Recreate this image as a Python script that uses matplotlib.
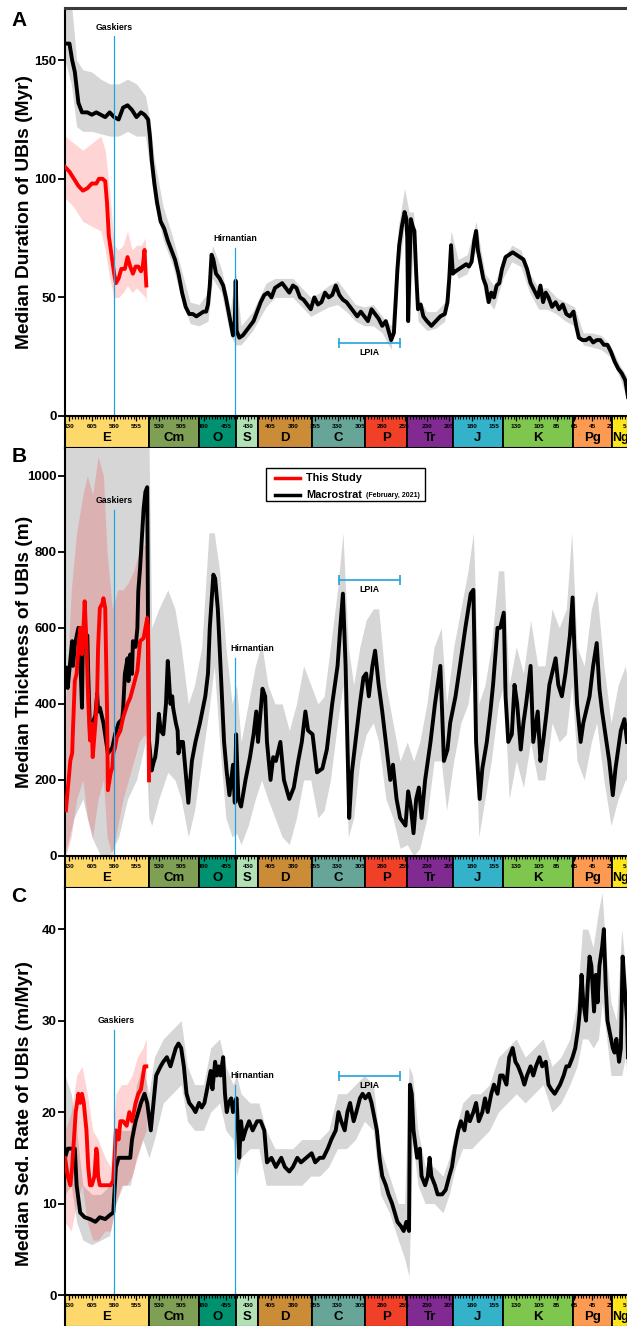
import matplotlib
matplotlib.use("Agg")
import matplotlib.pyplot as plt
import numpy as np
from matplotlib.patches import Rectangle

plt.rcParams['font.family'] = ['Liberation Sans', 'DejaVu Sans']
plt.rcParams['font.weight'] = 'bold'

# ---------------- geologic time scale ----------------
period_names = ['E', 'Cm', 'O', 'S', 'D', 'C', 'P', 'Tr', 'J', 'K', 'Pg', 'Ng']
period_old = [635, 541, 485.4, 443.8, 419.2, 358.9, 298.9, 251.9, 201.3, 145, 66, 23]
period_young = [541, 485.4, 443.8, 419.2, 358.9, 298.9, 251.9, 201.3, 145, 66, 23, 2.58]
period_colors = ['#fdd86b', '#7f9f55', '#009270', '#b3e1b6', '#cb8c37', '#67a599',
                 '#f04028', '#812b92', '#34b2c9', '#7fc64e', '#fd9a52', '#ffe619']
scale_labels = [630, 605, 580, 555, 530, 505, 480, 455, 430, 405, 380, 355, 330, 305,
                280, 255, 230, 205, 180, 155, 130, 105, 85, 65, 45, 25, 5]

# ---------------- panel A: median duration (Myr) ----------------
a_age = [635, 630, 627, 624, 620, 616, 610, 605, 600, 595,
         590, 585, 580, 575, 570, 565, 560, 555, 550, 546,
         542, 540, 538, 535, 532, 528, 524, 520, 516, 512,
         508, 504, 500, 496, 492, 488, 484, 480, 477, 475,
         473, 471, 469, 466, 462, 458, 455, 452, 449, 447,
         445, 444, 443, 440, 436, 432, 428, 424, 420, 416,
         412, 408, 404, 400, 396, 392, 388, 384, 380, 376,
         372, 368, 364, 360, 356, 352, 348, 344, 340, 336,
         332, 328, 324, 320, 316, 312, 308, 304, 300, 296,
         292, 288, 284, 280, 276, 273, 270, 267, 265, 263,
         261, 258, 255, 253, 252, 251, 250, 248, 246, 244,
         242, 240, 237, 234, 230, 225, 220, 215, 210, 207,
         205, 203, 201, 198, 194, 190, 186, 183, 180, 177,
         175, 173, 170, 167, 164, 161, 158, 155, 152, 149,
         146, 142, 138, 134, 130, 126, 122, 118, 114, 110,
         106, 103, 100, 97, 94, 90, 86, 82, 78, 74,
         70, 66, 63, 60, 56, 52, 48, 44, 40, 36,
         32, 28, 24, 20, 16, 12, 8, 5]
a_med = [157, 157, 150, 145, 132, 128, 128, 127, 128, 127,
         126, 128, 126, 125, 130, 131, 129, 126, 128, 127,
         125, 118, 108, 98, 90, 82, 79, 74, 70, 66,
         60, 52, 46, 43, 43, 42, 43, 44, 44, 47,
         55, 68, 66, 60, 58, 55, 50, 44, 38, 34,
         40, 57, 36, 33, 34, 36, 38, 40, 44, 48,
         51, 52, 50, 54, 55, 56, 54, 52, 55, 54,
         50, 49, 47, 45, 50, 47, 48, 52, 50, 51,
         55, 51, 49, 48, 46, 44, 42, 44, 42, 40,
         45, 43, 41, 38, 40, 36, 32, 35, 48, 62,
         72, 80, 86, 83, 75, 40, 55, 83, 80, 78,
         60, 45, 47, 42, 40, 38, 40, 42, 43, 48,
         58, 72, 60, 61, 62, 63, 64, 63, 65, 74,
         78, 70, 64, 58, 55, 48, 52, 50, 55, 56,
         62, 67, 68, 69, 68, 67, 66, 62, 56, 53,
         50, 55, 48, 52, 50, 46, 48, 45, 47, 43,
         42, 44, 38, 33, 32, 32, 33, 31, 32, 32,
         30, 30, 27, 23, 20, 18, 15, 8]
a_band_age = [635, 628, 622, 615, 605, 595, 585, 575, 565, 555,
              545, 540, 535, 525, 515, 505, 495, 485, 475, 470,
              460, 450, 444, 438, 425, 410, 400, 390, 380, 370,
              360, 350, 340, 330, 320, 310, 300, 290, 280, 270,
              262, 255, 250, 245, 240, 230, 220, 210, 203, 195,
              185, 175, 165, 155, 145, 135, 125, 115, 105, 95,
              85, 75, 65, 55, 45, 35, 25, 15, 5]
a_band_lo = [150, 140, 122, 120, 120, 119, 118, 118, 120, 118,
             118, 105, 90, 74, 64, 50, 39, 38, 40, 58,
             52, 34, 30, 30, 36, 46, 50, 50, 50, 46,
             42, 44, 46, 47, 44, 40, 38, 38, 35, 28,
             60, 80, 38, 72, 40, 36, 37, 40, 65, 58,
             60, 70, 50, 45, 58, 65, 63, 52, 45, 45,
             43, 40, 38, 30, 29, 28, 25, 17, 6]
a_band_hi = [175, 175, 150, 146, 145, 142, 140, 140, 142, 140,
             135, 125, 108, 88, 76, 62, 48, 47, 52, 72,
             62, 45, 60, 38, 44, 56, 58, 58, 58, 54,
             50, 52, 55, 57, 52, 47, 46, 47, 42, 38,
             80, 96, 86, 86, 50, 44, 44, 48, 78, 66,
             68, 82, 60, 55, 66, 72, 70, 60, 54, 54,
             50, 48, 46, 35, 35, 34, 30, 22, 16]
a_red_age = [635, 630, 625, 620, 615, 610, 605, 600, 597, 593,
             590, 588, 586, 583, 580, 578, 575, 572, 568, 565,
             562, 559, 556, 553, 550, 548, 546, 545, 544]
a_red = [105, 103, 100, 97, 95, 96, 98, 98, 100, 100,
         99, 90, 76, 68, 60, 56, 58, 62, 62, 67,
         63, 60, 63, 63, 61, 63, 70, 62, 55]
a_red_band_age = [635, 625, 615, 605, 595, 590, 585, 580, 575, 570, 565, 560, 555, 550, 545, 544]
a_red_lo = [92, 88, 82, 80, 78, 70, 58, 50, 50, 52, 55, 52, 54, 52, 50, 48]
a_red_hi = [118, 115, 112, 115, 118, 112, 95, 72, 70, 72, 78, 70, 72, 72, 75, 62]

# ---------------- panel B: median thickness (m) ----------------
b_age = [634, 632, 627, 626, 624, 620, 618, 616, 615, 613,
         610, 609, 607, 605, 604, 601, 599, 598, 596, 593,
         592, 588, 587, 582, 579, 575, 571, 570, 568, 565,
         564, 562, 560, 559, 556, 554, 553, 551, 548, 547,
         545, 543, 542, 541, 538, 536, 534, 532, 530, 528,
         525, 522, 520, 519, 517, 515, 514, 511, 509, 508,
         506, 503, 497, 493, 489, 484, 478, 475, 473, 469,
         467, 464, 461, 459, 457, 454, 451, 449, 447, 445,
         443.5, 441, 438, 433, 428, 424, 421, 419, 414, 411,
         409, 405, 402, 399, 394, 390, 384, 379, 374, 370,
         366, 363, 358, 353, 347, 342, 336, 330, 327, 324,
         321, 319, 317, 314, 310, 305, 301, 298, 295, 291,
         288, 284, 280, 275, 271, 268, 264, 260, 254, 251,
         248, 245, 242, 239, 236, 232, 226, 221, 215, 213,
         211, 207, 204, 198, 193, 187, 181, 178, 175, 171,
         168, 163, 159, 156, 151, 148, 144, 142, 139, 135,
         132, 129, 125, 122, 119, 114, 111, 106, 103, 100,
         96, 93, 90, 86, 83, 79, 75, 70, 67, 65,
         62, 58, 55, 52, 48, 44, 40, 37, 34, 29,
         26, 22, 19, 13, 9, 6]
b_med = [495, 442, 565, 500, 555, 600, 530, 390, 570, 560,
         580, 479, 322, 340, 350, 370, 427, 380, 390, 360,
         350, 285, 270, 285, 320, 350, 360, 385, 479, 520,
         460, 530, 479, 565, 550, 600, 696, 757, 872, 914,
         958, 970, 565, 304, 225, 245, 260, 300, 374, 330,
         320, 400, 513, 480, 400, 420, 390, 350, 330, 270,
         300, 300, 140, 250, 300, 350, 420, 480, 600, 740,
         730, 650, 500, 400, 300, 220, 160, 200, 240, 140,
         320, 150, 130, 200, 260, 320, 380, 300, 440, 420,
         300, 200, 260, 250, 300, 200, 150, 180, 250, 300,
         380, 330, 320, 220, 230, 280, 400, 500, 600, 690,
         500, 300, 100, 220, 300, 400, 470, 480, 420, 500,
         540, 450, 380, 280, 200, 240, 150, 100, 80, 170,
         130, 60, 150, 180, 100, 200, 300, 400, 500, 380,
         250, 280, 350, 420, 500, 600, 690, 700, 300, 150,
         230, 300, 380, 450, 600, 600, 640, 420, 300, 320,
         450, 400, 280, 350, 400, 500, 300, 380, 250, 300,
         380, 450, 480, 520, 450, 420, 480, 580, 680, 550,
         400, 300, 350, 380, 420, 500, 560, 440, 380, 300,
         250, 160, 230, 330, 360, 300]
b_band_age = [635, 625, 615, 605, 595, 585, 575, 565, 555, 545,
              541, 538, 530, 520, 512, 505, 497, 490, 482, 474,
              468, 462, 455, 448, 443, 438, 430, 422, 415, 408,
              400, 392, 384, 376, 368, 360, 352, 345, 338, 330,
              324, 318, 312, 305, 298, 290, 284, 276, 268, 260,
              252, 245, 238, 230, 222, 214, 208, 200, 192, 184,
              178, 172, 165, 158, 150, 144, 138, 130, 122, 114,
              106, 98, 90, 82, 74, 68, 62, 54, 46, 40,
              32, 24, 16, 8, 5]
b_band_lo = [0, 100, 150, 50, 0, 0, 50, 150, 200, 300,
             100, 80, 150, 220, 200, 150, 50, 120, 250, 380,
             500, 300, 100, 50, 60, 30, 80, 150, 200, 150,
             100, 50, 30, 100, 200, 200, 100, 120, 200, 350,
             450, 50, 100, 250, 320, 350, 300, 150, 100, 20,
             30, 0, 20, 100, 250, 250, 120, 250, 350, 400,
             500, 50, 150, 250, 400, 450, 150, 250, 180, 300,
             200, 200, 350, 300, 320, 450, 250, 200, 300, 350,
             200, 80, 150, 200, 200]
b_band_hi = [1080, 1080, 1080, 1080, 1080, 1080, 1080, 1080, 1080, 1080,
             1080, 600, 650, 700, 650, 550, 400, 450, 550, 850,
             850, 750, 550, 400, 450, 300, 400, 500, 560, 450,
             400, 400, 330, 400, 500, 450, 400, 420, 550, 700,
             850, 550, 450, 550, 620, 650, 650, 450, 350, 250,
             300, 250, 300, 400, 550, 600, 400, 550, 650, 750,
             850, 400, 450, 550, 750, 750, 450, 550, 480, 620,
             500, 500, 650, 600, 650, 850, 550, 500, 650, 700,
             500, 350, 450, 500, 450]
b_red_age = [634, 632, 629, 627, 626, 624, 622, 620, 618, 616,
             615, 613, 611, 610, 609, 607, 605, 604, 601, 599,
             598, 596, 593, 592, 590, 588, 587, 584, 582, 581,
             579, 577, 573, 570, 565, 562, 559, 554, 551, 547,
             545, 543, 542, 541]
b_red = [120, 173, 251, 270, 338, 461, 479, 547, 600, 531,
         565, 670, 565, 479, 408, 304, 348, 260, 348, 427,
         547, 652, 665, 678, 652, 390, 173, 217, 233, 270,
         285, 311, 330, 364, 400, 416, 442, 487, 565, 573,
         600, 626, 600, 199]
b_red_band_age = [634, 628, 622, 615, 610, 604, 598, 592, 588, 582, 576, 570, 564, 558, 552, 546, 542, 541]
b_red_lo = [0, 50, 150, 200, 100, 50, 150, 200, 50, 0, 80, 150, 200, 250, 300, 320, 300, 100]
b_red_hi = [400, 700, 850, 950, 1000, 950, 1050, 1000, 800, 650, 700, 700, 720, 750, 800, 820, 800, 400]

# ---------------- panel C: median sedimentation rate (m/Myr) ----------------
c_age = [635, 632, 624, 622, 618, 613, 607, 601, 596, 590,
         584, 581, 578, 575, 571, 566, 562, 560, 556, 553,
         550, 546, 543, 539, 536, 533, 528, 525, 521, 517,
         511, 508, 505, 502, 499, 496, 492, 489, 485, 482,
         479, 475, 472, 470, 467, 465, 463, 461, 458, 456,
         454, 452, 449, 447, 445, 443, 440, 438, 436, 433,
         429, 425, 420, 416, 412, 409, 404, 399, 393, 389,
         384, 380, 375, 371, 365, 359, 355, 350, 346, 341,
         337, 332, 329, 326, 322, 319, 316, 312, 309, 305,
         302, 299, 295, 292, 290, 286, 283, 280, 276, 273,
         269, 266, 263, 259, 256, 253, 250, 249, 247, 245,
         241, 238, 236, 232, 229, 227, 225, 221, 218, 213,
         209, 205, 202, 199, 195, 192, 188, 185, 182, 178,
         175, 172, 168, 165, 162, 158, 155, 151, 148, 145,
         141, 138, 134, 131, 128, 124, 121, 118, 114, 111,
         108, 104, 101, 97, 94, 91, 87, 84, 81, 77,
         74, 71, 67, 64, 61, 59, 57, 55, 52, 50,
         48, 46, 43, 41, 39, 37, 34, 32, 30, 28,
         24, 22, 20, 18, 15, 13, 11, 9, 6, 5]
c_med = [15, 16, 16, 12, 9, 8.5, 8.3, 8, 8.5, 8.3,
         8.8, 9, 14, 15, 15, 15, 15, 17, 19, 20,
         21, 22, 21, 18, 21, 24, 25, 25.5, 26, 25,
         27, 27.5, 27, 25, 22, 21, 20.5, 20, 21, 20.5,
         21, 23, 24.5, 22.5, 25.5, 24, 25, 24, 26, 22,
         20, 21, 21.5, 20, 21, 21.5, 15, 19, 17, 18,
         19, 18, 19, 19, 18, 14.5, 15, 14, 15, 14,
         13.5, 14, 15, 14.5, 15, 15.5, 14.5, 15, 15, 16,
         17, 18, 20, 19, 18, 20, 21, 19, 20, 21.5,
         22, 21.5, 22, 21, 20, 18, 15, 13, 12, 11,
         10, 9, 8, 7.5, 7, 8, 7, 23, 22, 18,
         15, 16, 13, 12, 13, 15, 13, 12, 11, 11,
         11.5, 13, 14, 16, 18, 19, 18, 20, 19, 20,
         21, 19, 20, 21.5, 20, 22, 23, 22, 24, 24,
         23, 26, 27, 25.5, 25, 24, 23, 24, 25, 24,
         25, 26, 25, 25.5, 23, 22.5, 22, 22.5, 23, 24,
         25, 25, 26, 27, 29, 31, 35, 32, 30, 34,
         37, 36, 31, 35, 32, 36, 38, 40, 34, 30,
         28, 27, 26.5, 28, 25.5, 27, 37, 34, 30, 26]
c_band_age = [635, 628, 622, 615, 605, 595, 585, 578, 570, 562,
              555, 548, 541, 535, 525, 515, 505, 498, 490, 480,
              472, 462, 455, 447, 443, 438, 428, 418, 410, 400,
              390, 380, 370, 360, 350, 340, 330, 320, 310, 300,
              290, 282, 272, 262, 255, 250, 246, 240, 232, 222,
              212, 205, 198, 190, 180, 170, 160, 150, 140, 130,
              120, 110, 100, 90, 80, 70, 62, 56, 50, 44,
              38, 34, 30, 24, 18, 12, 8, 5]
c_band_lo = [11, 12, 8, 6, 5.5, 6, 6.5, 10, 12, 12,
             15, 17, 15, 17, 21, 22, 23, 19, 18, 18,
             20, 21, 18, 17, 13, 15, 16, 16, 12, 12,
             12, 12, 12, 13, 13, 14, 16, 16, 17, 19,
             18, 11, 9, 6, 4, 2, 17, 12, 10, 10,
             9, 11, 14, 16, 16, 17, 18, 20, 21, 22,
             21, 22, 23, 20, 21, 23, 25, 28, 28, 27,
             28, 32, 29, 24, 24, 24, 26, 23]
c_band_hi = [24, 22, 18, 12, 11, 11, 12, 18, 18, 18,
             23, 25, 22, 26, 28, 29, 30, 25, 23, 23,
             27, 28, 25, 23, 24, 22, 21, 21, 18, 16,
             16, 16, 17, 17, 17, 18, 22, 22, 23, 24,
             23, 16, 13, 10, 10, 25, 24, 18, 14, 14,
             13, 15, 18, 21, 22, 22, 23, 26, 27, 28,
             26, 27, 28, 25, 26, 28, 32, 40, 40, 38,
             42, 44, 38, 32, 30, 40, 36, 30]
c_red_age = [635, 632, 629, 627, 625, 623, 620, 618, 616, 614,
             611, 609, 607, 605, 602, 600, 599, 598, 596, 590,
             584, 581, 578, 575, 573, 570, 566, 563, 560, 556,
             553, 550, 546, 544]
c_red = [15, 13, 12, 14, 17, 20, 22, 21, 22, 21,
         18, 14, 12, 12, 13, 16, 15.5, 13, 12, 12,
         12, 12.5, 18, 17, 19, 19, 18.5, 20, 19, 21,
         22, 22.5, 25, 25]
c_red_band_age = [635, 628, 622, 616, 610, 604, 598, 590, 584, 578, 572, 566, 560, 554, 548, 544]
c_red_lo = [8, 7, 10, 12, 8, 6, 6, 7, 7, 10, 12, 12, 13, 15, 17, 18]
c_red_hi = [18, 20, 24, 25, 22, 18, 17, 15, 14, 22, 23, 23, 24, 26, 27, 28]

BLUE = '#22a3dc'
GRAY = '#d6d6d6'
XLIM = (635, 5)
FW, FH = 627, 1326


def box(top, bottom):
    # pixel rows -> figure fraction
    return [65 / FW, 1 - bottom / FH, 563 / FW, (bottom - top) / FH]


fig = plt.figure(figsize=(FW / 100, FH / 100), dpi=100)


def draw_scale(bx):
    bx.set_xlim(*XLIM)
    bx.set_ylim(0, 1)
    for name, old, young, col in zip(period_names, period_old, period_young, period_colors):
        bx.add_patch(Rectangle((young, 0), old - young, 1, facecolor=col,
                               edgecolor='black', lw=1.3))
        if name == 'Ng':
            # youngest box is cut by the right edge: keep its name inside
            bx.text(old - 0.5, 0.30, name, ha='left', va='center',
                    fontsize=8.8, weight='bold')
        else:
            bx.text((old + young) / 2, 0.30, name, ha='center', va='center',
                    fontsize=9.5, weight='bold')
    for lab in scale_labels:
        bx.text(max(lab, 8.5), 0.66, str(lab), ha='center', va='center',
                fontsize=4.6, weight='bold')
    bx.xaxis.tick_top()
    bx.set_xticks(scale_labels)
    bx.set_xticks(np.arange(630, 4, -3.125), minor=True)
    bx.tick_params(axis='x', which='major', direction='in', length=3.5, width=0.9, labeltop=False)
    bx.tick_params(axis='x', which='minor', direction='in', length=2.5, width=0.8)
    bx.set_yticks([])
    for s in bx.spines.values():
        s.set_linewidth(1.5)


def draw_panel(top, bottom, ylim, yticks, ylabel, letter, letter_y,
               age, med, band_age, lo, hi, r_age, red, rb_age, rlo, rhi):
    ax = fig.add_axes(box(top, bottom))
    ax.set_xlim(*XLIM)
    ax.set_ylim(*ylim)
    ax.fill_between(band_age, lo, hi, color=GRAY, lw=0, zorder=1)
    ax.fill_between(rb_age, rlo, rhi, color='red', alpha=0.17, lw=0, zorder=2)
    ax.plot(age, med, color='black', lw=2.8, zorder=3, solid_joinstyle='round')
    ax.plot(r_age, red, color='red', lw=2.8, zorder=4, solid_joinstyle='round')
    ax.set_xticks([])
    ax.set_yticks(yticks)
    ax.tick_params(axis='y', direction='out', length=5, width=1.3, labelsize=9.5, pad=1)
    for lab in ax.get_yticklabels():
        lab.set_fontweight('bold')
    ax.spines['right'].set_visible(False)
    ax.spines['bottom'].set_visible(False)
    ax.spines['top'].set_visible(False)
    ax.spines['left'].set_linewidth(1.5)
    ax.set_ylabel(ylabel, fontsize=13.8, weight='bold')
    fig.text(19 / FW, 1 - letter_y / FH, letter, fontsize=15, weight='bold',
             ha='center', va='center')
    bx = fig.add_axes(box(bottom, bottom + 32))
    draw_scale(bx)
    return ax


def event_line(ax, age, top, label, label_age=None):
    ax.plot([age, age], [0, top], color=BLUE, lw=0.9, zorder=5)
    span = ax.get_ylim()[1]
    ax.text(age if label_age is None else label_age, top + span * 0.012, label,
            ha='center', va='bottom', fontsize=6.3, weight='bold', zorder=6)


def lpia(ax, y):
    ax.plot([328, 260], [y, y], color=BLUE, lw=1.2, zorder=5)
    ax.plot([328, 260], [y, y], ls='none', marker='|', ms=7, mew=1.2, color=BLUE, zorder=5)
    ax.text(294, y - ax.get_ylim()[1] * 0.012, 'LPIA', ha='center', va='top',
            fontsize=6.3, weight='bold', zorder=6)


# Panel A
axA = draw_panel(8, 416, (0, 172), [0, 50, 100, 150], 'Median Duration of UBIs (Myr)', 'A', 21,
                 a_age, a_med, a_band_age, a_band_lo, a_band_hi,
                 a_red_age, a_red, a_red_band_age, a_red_lo, a_red_hi)
axA.spines['top'].set_visible(True)
axA.spines['top'].set_color('#3a3a3a')
axA.spines['top'].set_linewidth(2.2)
axA.yaxis.set_label_coords(-0.057, 0.5)
event_line(axA, 580, 160, 'Gaskiers')
event_line(axA, 444.5, 71, 'Hirnantian')
lpia(axA, 30.8)

# Panel B
axB = draw_panel(448, 856, (0, 1073), [0, 200, 400, 600, 800, 1000],
                 'Median Thickness of UBIs (m)', 'B', 456,
                 b_age, b_med, b_band_age, b_band_lo, b_band_hi,
                 b_red_age, b_red, b_red_band_age, b_red_lo, b_red_hi)
axB.yaxis.set_label_coords(-0.057, 0.5)
event_line(axB, 580, 910, 'Gaskiers')
event_line(axB, 444.5, 521, 'Hirnantian', label_age=425)
lpia(axB, 726)

# legend drawn by hand (small date text next to the label)
axB.add_patch(Rectangle((0.357, 0.869), 0.282, 0.083, transform=axB.transAxes,
                        facecolor='white', edgecolor='black', lw=1.0, zorder=7))
axB.plot([0.373, 0.417], [0.926, 0.926], transform=axB.transAxes, color='red', lw=2.5, zorder=8)
axB.plot([0.373, 0.417], [0.885, 0.885], transform=axB.transAxes, color='black', lw=2.5, zorder=8)
axB.text(0.428, 0.926, 'This Study', transform=axB.transAxes, va='center', fontsize=7.8,
         weight='bold', zorder=8)
axB.text(0.428, 0.885, 'Macrostrat', transform=axB.transAxes, va='center', fontsize=7.8,
         weight='bold', zorder=8)
axB.text(0.535, 0.883, '(February, 2021)', transform=axB.transAxes, va='center', fontsize=5,
         weight='bold', zorder=8)

# Panel C
axC = draw_panel(888, 1295, (0, 44.5), [0, 10, 20, 30, 40],
                 'Median Sed. Rate of UBIs (m/Myr)', 'C', 897,
                 c_age, c_med, c_band_age, c_band_lo, c_band_hi,
                 c_red_age, c_red, c_red_band_age, c_red_lo, c_red_hi)
axC.yaxis.set_label_coords(-0.057, 0.447)
event_line(axC, 580, 29, 'Gaskiers', label_age=578)
event_line(axC, 444.5, 23, 'Hirnantian', label_age=425)
lpia(axC, 23.9)

fig.savefig('out.png', dpi=100)
